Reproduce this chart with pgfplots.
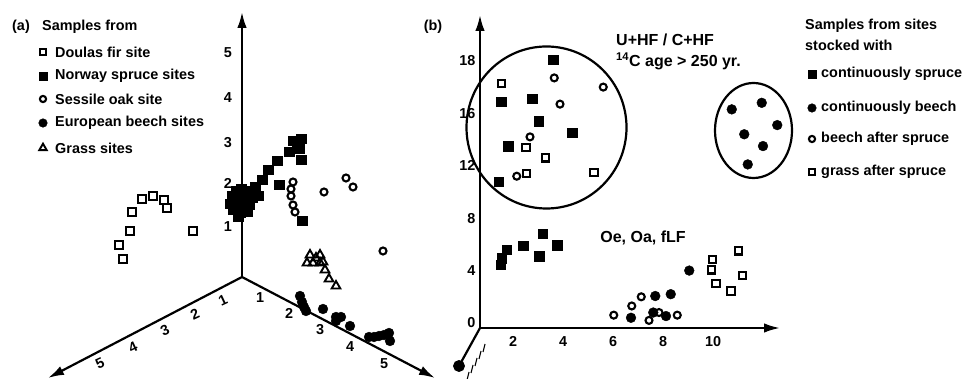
\documentclass[border=0pt]{standalone}
\usepackage{pgfplots}
\pgfplotsset{compat=1.18}
\usepackage{fontspec}
\setmainfont{Liberation Sans}
\usetikzlibrary{arrows.meta}
\tikzset{
  lab/.style={font=\fontsize{14.4}{16}\selectfont\bfseries, inner sep=0pt},
  labB/.style={font=\fontsize{16}{18}\selectfont\bfseries, inner sep=0pt},
  axarrow/.style={line width=2.2pt, -{Latex[length=16pt,width=9.5pt]}},
}
\pgfplotsset{
  osq/.style={only marks, black, mark=square, mark size=3.6pt, mark options={line width=2.1pt, draw=black}},
  fsq/.style={only marks, black, mark=square*, mark size=4.7pt, mark options={draw=black, fill=black}},
  ocirc/.style={only marks, black, mark=o, mark size=3.5pt, mark options={line width=2.1pt, draw=black}},
  fcirc/.style={only marks, black, mark=*, mark size=4.9pt, mark options={draw=black, fill=black}},
  otri/.style={only marks, black, mark=triangle, mark size=5pt, mark options={line width=1.9pt, draw=black}},
}
\begin{document}
\begin{tikzpicture}
% ---------------- pixel-space axis: panel (a) and annotations ----------------
\begin{axis}[at={(0pt,0pt)}, anchor=south west, scale only axis,
  width=963pt, height=379pt, xmin=0, xmax=963, ymin=-379, ymax=0,
  hide axis, clip=false]
% axes of panel (a)
\addplot[axarrow] coordinates {(242,-277) (242,-12)};
\addplot[axarrow] coordinates {(242,-277) (48,-378)};
\addplot[axarrow] coordinates {(242,-277) (435,-378)};
% tick labels of panel (a)
\node[lab] at (axis cs:228,-53) {5};
\node[lab] at (axis cs:228,-98) {4};
\node[lab] at (axis cs:228,-143) {3};
\node[lab] at (axis cs:228,-183) {2};
\node[lab] at (axis cs:228,-227) {1};
\node[lab, rotate=25] at (axis cs:223,-300) {1};
\node[lab, rotate=25] at (axis cs:195,-314) {2};
\node[lab, rotate=25] at (axis cs:165,-330) {3};
\node[lab, rotate=25] at (axis cs:133,-347) {4};
\node[lab, rotate=25] at (axis cs:100,-363) {5};
\node[lab] at (axis cs:260,-298) {1};
\node[lab] at (axis cs:289,-313) {2};
\node[lab] at (axis cs:320,-330) {3};
\node[lab] at (axis cs:350,-347) {4};
\node[lab] at (axis cs:384,-364) {5};
% legend of panel (a)
\node[lab] at (axis cs:21,-27) {(a)};
\node[lab, anchor=west] at (axis cs:42,-27) {Samples from};
\addplot[osq, mark size=3.1pt] coordinates {(43,-52)};
\addplot[fsq, mark size=4pt] coordinates {(43,-76)};
\addplot[ocirc, mark size=3.1pt] coordinates {(43,-99)};
\addplot[fcirc, mark size=4.3pt] coordinates {(43,-123)};
\addplot[otri, mark size=4.3pt] coordinates {(43,-148)};
\node[lab, anchor=west] at (axis cs:55,-52) {Doulas fir site};
\node[lab, anchor=west] at (axis cs:55,-76) {Norway spruce sites};
\node[lab, anchor=west] at (axis cs:55,-99) {Sessile oak site};
\node[lab, anchor=west] at (axis cs:55,-123) {European beech sites};
\node[lab, anchor=west] at (axis cs:55,-148) {Grass sites};
% data of panel (a) (projected positions)
\addplot[osq] coordinates {(142,-199) (153,-196) (164,-200) (167,-208) (132,-212) (130,-231) (119,-245) (123,-259) (193,-231)};
\addplot[fsq] coordinates {(232,-196) (236,-191) (241,-189) (246,-193) (251,-191) (255,-187) (236,-199) (241,-202) (247,-200) (252,-198) (258,-196) (230,-204) (236,-207) (243,-208) (249,-205) (240,-213) (247,-212) (238,-217) (233,-210)
 (262,-180) (268,-170) (277,-161) (279,-185) (289,-152) (293,-141) (301,-139) (297,-145) (299,-149) (301,-160) (302,-221)};
\addplot[ocirc] coordinates {(293,-182) (291,-189) (291,-196) (293,-205) (295,-212) (324,-192) (346,-178) (353,-187) (383,-251)};
\addplot[otri] coordinates {(310,-255) (320,-255) (316,-258) (313,-263) (320,-263) (307,-263) (323,-262) (325,-270) (329,-279) (336,-286)};
\addplot[fcirc] coordinates {(300,-296) (302,-302) (304,-307) (306,-311) (323,-309) (336,-317) (341,-317) (336,-321) (350,-326) (369,-337) (374,-337) (379,-336) (384,-335) (389,-333) (390,-341)};
% ---------------- annotations of panel (b) ----------------
\node[lab] at (axis cs:433,-27) {(b)};
\draw[line width=2.2pt] (axis cs:546.5,-127.5) ellipse [x radius=80pt, y radius=81pt];
\draw[line width=2.2pt] (axis cs:753.5,-130.5) ellipse [x radius=38.5pt, y radius=47.5pt];
\node[labB, anchor=west] at (axis cs:616,-40) {U+HF / C+HF};
\node[labB, anchor=west] at (axis cs:616,-61) {\textsuperscript{14}C age > 250 yr.};
\node[labB] at (axis cs:643,-238) {Oe, Oa, fLF};
\node[lab, anchor=west] at (axis cs:805,-26) {Samples from sites};
\node[lab, anchor=west] at (axis cs:805,-45) {stocked with};
\addplot[fsq, mark size=4pt] coordinates {(812,-74)};
\addplot[fcirc, mark size=4.3pt] coordinates {(812,-108)};
\addplot[ocirc, mark size=3.1pt] coordinates {(812,-139)};
\addplot[osq, mark size=3.1pt] coordinates {(812,-172)};
\node[lab, anchor=west] at (axis cs:821,-74) {continuously spruce};
\node[lab, anchor=west] at (axis cs:821,-108) {continuously beech};
\node[lab, anchor=west] at (axis cs:821,-139) {beech after spruce};
\node[lab, anchor=west] at (axis cs:821,-172) {grass after spruce};
% third (depth) axis of panel (b)
\addplot[line width=2.2pt, mark=*, mark indices={2}, mark size=4.8pt, mark options={fill=black}] coordinates {(480,-328) (459,-366)};
\foreach \hx/\hy in {485/344, 481/351, 477/358, 473/365, 469/372} {
  \edef\tmp{\noexpand\draw[line width=1.1pt] (axis cs:\hx,-\hy) -- ++(-2pt,-8pt);}\tmp
}
\end{axis}
% ---------------- panel (b) data axis ----------------
\begin{axis}[at={(480pt,51pt)}, anchor=south west, scale only axis,
  width=300pt, height=313pt,
  xmin=0.68, xmax=12.68, ymin=-0.38, ymax=23.5,
  axis lines=left, axis line style={line width=2.2pt, -{Latex[length=16pt,width=9.5pt]}},
  xtick={2,4,6,8,10}, ytick={0,4,8,12,16,20}, yticklabels={0,4,8,12,16,18},
  major tick length=0pt, tick style={draw=none},
  /pgf/number format/assume math mode=true,
  ticklabel style={font=\fontsize{14.4}{16}\selectfont\bfseries},
  xticklabel style={yshift=-5pt}, yticklabel style={xshift=-1pt},
  clip=false]
\addplot[fsq] coordinates {(3.61,20.1) (1.52,16.9) (2.76,17.1) (3.03,15.4) (4.36,14.5) (1.8,13.5) (1.43,10.8)
 (1.51,4.43) (1.55,4.95) (1.75,5.6) (2.41,5.9) (3.19,6.8) (3.05,5.1) (3.77,5.95)};
\addplot[fcirc] coordinates {(10.75,16.3) (11.95,16.8) (12.57,15.1) (11.25,14.4) (12.0,13.5) (11.39,12.1)
 (6.72,0.4) (7.69,2.06) (8.31,2.2) (7.61,0.8) (8.12,0.53) (9.05,4.0)};
\addplot[ocirc] coordinates {(3.65,18.7) (3.88,16.7) (5.61,18.0) (2.68,14.2) (2.15,11.2)
 (6.03,0.6) (6.75,1.3) (7.13,2.0) (7.44,0.2) (7.84,0.8) (8.57,0.6)};
\addplot[osq] coordinates {(1.55,18.3) (2.52,13.4) (3.29,12.6) (2.55,11.4) (5.24,11.5)
 (9.99,4.86) (9.95,4.05) (10.12,3.0) (10.72,2.44) (11.17,3.6) (11.01,5.5)};
\end{axis}
\pgfresetboundingbox
\path[use as bounding box] (0pt,0pt) rectangle (963pt,379pt);
\end{tikzpicture}
\end{document}
